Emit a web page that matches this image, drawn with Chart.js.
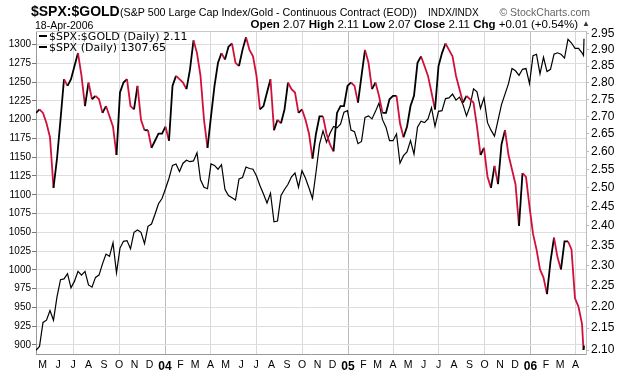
<!DOCTYPE html>
<html><head><meta charset="utf-8">
<script src="https://cdn.jsdelivr.net/npm/chart.js@4/dist/chart.umd.min.js"></script>
<style>
html,body{margin:0;padding:0;background:#fff;}
#wrap{position:relative;width:620px;height:376px;overflow:hidden;background:#fff;}
#c{position:absolute;left:0;top:0;}
.t{position:absolute;white-space:nowrap;font-family:"Liberation Sans",Arial,sans-serif;color:#000;}
.lg{position:absolute;white-space:nowrap;font-family:"DejaVu Sans",Verdana,sans-serif;font-size:11px;line-height:11px;color:#000;}
.dash{display:inline-block;width:8px;height:2px;background:#000;vertical-align:middle;margin-right:2px;position:relative;top:-1px;}
</style></head><body>
<div id="wrap">
<canvas id="c" width="620" height="376"></canvas>
<div class="t" style="left:31px;top:4px;font-size:14px;line-height:14px;font-weight:bold" id="sym"></div>
<div class="t" style="left:120px;top:6.5px;font-size:10.7px;line-height:11px" id="desc"></div>
<div class="t" style="left:428px;top:7.5px;font-size:10px;line-height:10px" id="exch"></div>
<div class="t" style="right:30px;top:7px;font-size:10.5px;line-height:10.5px;color:#666" id="brand">© StockCharts.com</div>
<div class="t" style="left:35px;top:19.5px;font-size:10.5px;line-height:10.5px" id="date"></div>
<div class="t" style="right:42px;top:19px;font-size:11.5px;line-height:11.5px" id="ohlc"></div>
<div class="t" style="left:582px;top:20px;font-size:8px;line-height:8px;color:#333">▲</div>
<div class="lg" style="left:39px;top:31px" id="lg1"></div>
<div class="lg" style="left:39px;top:41.5px" id="lg2"></div>
</div>
<script>
// ---- data (weekly readings, Apr 2003 - Apr 2006) ----
const ratioValues = [
2.71,2.72,2.71,2.68,2.64,2.50,2.58,2.69,2.81,2.79,
2.81,2.85,2.89,2.82,2.73,2.80,2.75,2.76,2.75,2.71,
2.73,2.70,2.67,2.59,2.77,2.80,2.81,2.73,2.72,2.79,
2.69,2.66,2.66,2.61,2.63,2.65,2.65,2.67,2.63,2.79,
2.82,2.81,2.80,2.78,2.84,2.93,2.89,2.82,2.69,2.61,
2.70,2.79,2.86,2.89,2.87,2.91,2.92,2.86,2.85,2.90,
2.94,2.90,2.88,2.82,2.72,2.73,2.77,2.81,2.66,2.69,
2.68,2.72,2.80,2.78,2.77,2.71,2.72,2.69,2.65,2.58,
2.65,2.70,2.70,2.65,2.62,2.60,2.71,2.73,2.73,2.79,
2.80,2.79,2.74,2.82,2.90,2.86,2.78,2.80,2.76,2.71,
2.71,2.75,2.76,2.76,2.68,2.64,2.67,2.73,2.76,2.86,
2.88,2.85,2.82,2.77,2.72,2.85,2.89,2.92,2.90,2.88,
2.82,2.78,2.74,2.76,2.75,2.74,2.67,2.59,2.61,2.53,
2.50,2.56,2.51,2.62,2.66,2.59,2.55,2.51,2.40,2.54,
2.53,2.45,2.38,2.34,2.29,2.27,2.23,2.31,2.37,2.32,
2.29,2.36,2.36,2.34,2.22,2.20,2.16,
2.10,2.11];
const spxValues = [
893,898,930,933,946,933,964,987,988,995,
976,985,998,993,998,980,977,990,993,1008,
1021,1018,1036,996,1029,1038,1039,1028,1050,1053,
1050,1035,1058,1061,1074,1088,1095,1108,1122,1139,
1141,1131,1142,1146,1144,1145,1156,1120,1110,1108,
1141,1139,1134,1140,1107,1099,1096,1093,1121,1123,
1137,1135,1134,1125,1112,1101,1089,1102,1064,1065,
1099,1107,1114,1124,1129,1110,1132,1122,1109,1095,
1130,1167,1185,1170,1182,1191,1189,1194,1210,1212,
1186,1184,1168,1171,1203,1205,1201,1211,1222,1200,
1190,1172,1172,1181,1142,1152,1157,1172,1154,1190,
1198,1196,1201,1216,1191,1211,1212,1228,1229,1234,
1226,1230,1220,1205,1218,1241,1237,1215,1229,1196,
1186,1178,1199,1220,1234,1248,1268,1265,1259,1267,
1268,1248,1285,1287,1261,1283,1264,1267,1287,1289,
1287,1282,1307,1302,1295,1295,1289,
1285.33,1307.65];
// categories: weekly dates from 2003-04-18, then the last two sessions
const firstDate = '2003-04-18';
const lastDates = ['2006-04-17','2006-04-18'];
const dates = [];
for (let i = 0; i < ratioValues.length - lastDates.length; i++) {
  const d = new Date(Date.parse(firstDate) + i * 7 * 86400000);
  dates.push(d.toISOString().slice(0,10));
}
lastDates.forEach(d => dates.push(d));

const monthLabels = ['M','J','J','A','S','O','N','D','04','F','M','A','M','J','J','A','S','O','N','D','05','F','M','A','M','J','J','A','S','O','N','D','06','F','M','A'];
const leftTicks = [900,925,950,975,1000,1025,1050,1075,1100,1125,1150,1175,1200,1225,1250,1275,1300];
const rightTicks = [2.10,2.15,2.20,2.25,2.30,2.35,2.40,2.45,2.50,2.55,2.60,2.65,2.70,2.75,2.80,2.85,2.90,2.95];

const symbol = '$SPX:$GOLD';
const description = '(S&P 500 Large Cap Index/Gold - Continuous Contract (EOD))';
const exchange = 'INDX/INDX';
const quoteDate = '18-Apr-2006';
const quoteLabels = ['Open','High','Low','Close','Chg'];
const quoteValues = ['2.07','2.11','2.07','2.11','+0.01 (+0.54%)'];

// ---- header text ----
document.getElementById('sym').textContent = symbol;
document.getElementById('desc').textContent = description;
document.getElementById('exch').textContent = exchange;
document.getElementById('date').textContent = quoteDate;
document.getElementById('ohlc').innerHTML = quoteLabels.map((l,i)=>'<b>'+l+'</b> '+quoteValues[i]).join(' ');
document.getElementById('lg1').innerHTML = '<span class="dash"></span>' + symbol + ' (Daily) ' + ratioValues[ratioValues.length-1].toFixed(2);
document.getElementById('lg2').innerHTML = '<span class="dash"></span>$SPX (Daily) ' + spxValues[spxValues.length-1].toFixed(2);

// ---- chart ----
const t0 = Date.parse(firstDate);
const toDay = s => (Date.parse(s) - t0) / 86400000;
const monthStarts = monthLabels.map((l,i) => (Date.UTC(2003, 4 + i, 1) - t0) / 86400000);
const RED = '#d0103a';

new Chart(document.getElementById('c'), {
  type: 'line',
  data: {
    datasets: [
      { label: 'ratio', yAxisID: 'yR', order: 0,
        data: dates.map((d,i) => ({x: toDay(d), y: ratioValues[i]})),
        borderWidth: 1.8, borderColor: RED,
        segment: { borderColor: c => c.p1.parsed.y < c.p0.parsed.y ? RED : '#000' } },
      { label: 'spx', yAxisID: 'yL', order: 1,
        data: dates.map((d,i) => ({x: toDay(d), y: spxValues[i]})),
        borderWidth: 1.2, borderColor: '#000' }
    ]
  },
  options: {
    responsive: false, animation: false, devicePixelRatio: 1,
    layout: { padding: { top: 31, left: 0, right: 0, bottom: 0 } },
    plugins: { legend: { display: false }, tooltip: { enabled: false } },
    elements: { point: { radius: 0 }, line: { tension: 0 } },
    scales: {
      x: {
        type: 'linear', min: 0, max: 1100, bounds: 'data',
        afterBuildTicks: s => { s.ticks = monthStarts.map(v => ({value: v})); },
        afterFit: s => { s.height = 22; },
        ticks: {
          autoSkip: false, maxRotation: 0, padding: 5, color: '#000',
          callback: (v, i) => monthLabels[i],
          font: c => {
            const yr = /^\d+$/.test(monthLabels[c.index] || '');
            return { family: 'Liberation Sans', size: yr ? 12 : 10.5, weight: yr ? 'bold' : 'normal' };
          }
        },
        grid: {
          drawTicks: false, lineWidth: 1,
          color: c => {
            const m = (4 + c.index) % 12;
            if (m === 0) return '#bdbdbd';
            return (m % 3 === 0) ? '#d8d8d8' : 'rgba(0,0,0,0)';
          }
        },
        border: { color: '#999' }
      },
      yL: {
        type: 'linear', position: 'left', min: 888, max: 1318,
        afterBuildTicks: s => { s.ticks = leftTicks.map(v => ({value: v})); },
        afterFit: s => { s.width = 36; },
        ticks: { autoSkip: false, padding: 1, color: '#000', font: { family: 'Liberation Sans', size: 10 },
                 callback: v => String(v) },
        grid: { color: '#dedede', tickLength: 4, tickColor: '#777' },
        border: { color: '#999' }
      },
      yR: {
        type: 'logarithmic', position: 'right', min: 2.091, max: 2.9595, bounds: 'data',
        afterBuildTicks: s => { s.ticks = rightTicks.map(v => ({value: v})); },
        afterFit: s => { s.width = 34; },
        ticks: { autoSkip: false, padding: 2, color: '#000', font: { family: 'Liberation Sans', size: 12 },
                 callback: v => Number(v).toFixed(2) },
        grid: { drawOnChartArea: false, tickLength: 3, tickColor: '#bbb' },
        border: { color: '#bbb', dash: [1, 2] }
      }
    }
  },
  plugins: [{
    id: 'frame',
    beforeDatasetsDraw(chart) {
      const a = chart.chartArea, g = chart.ctx;
      g.save(); g.strokeStyle = '#c8c8c8'; g.lineWidth = 1;
      g.beginPath(); g.moveTo(a.left, a.top + 0.5); g.lineTo(a.right, a.top + 0.5); g.stroke();
      g.restore();
    }
  }]
});
</script>
</body></html>
